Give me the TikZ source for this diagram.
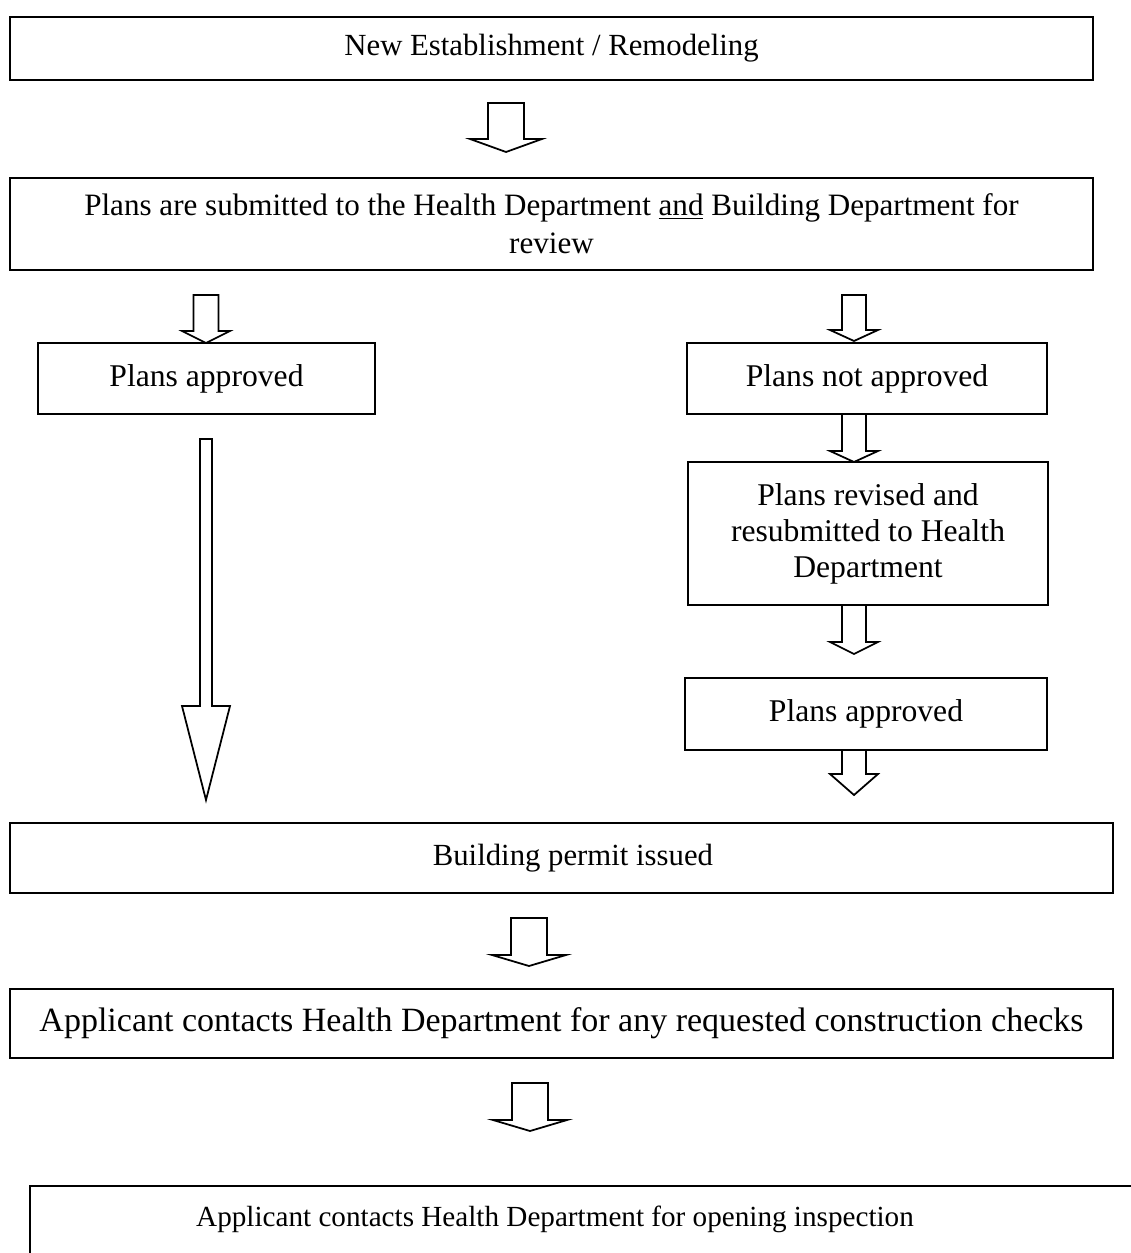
\documentclass[tikz,border=0pt]{standalone}
\usepackage{fontspec}
\setmainfont{Liberation Serif}
\tikzset{
  box/.style={draw,line width=1pt,inner sep=0pt,align=center,
    font=\fontsize{18}{20.5}\selectfont},
  barrow/.style={draw,line width=1pt,fill=white,line join=miter}
}
% down block arrow: x, top, neck, tip, half shaft, half head
\newcommand{\darrow}[6]{\draw[barrow] (#1-#5,#2) -- (#1+#5,#2) -- (#1+#5,#3) -- (#1+#6,#3) -- (#1,#4) -- (#1-#6,#3) -- (#1-#5,#3) -- cycle;}
\begin{document}
\begin{tikzpicture}[x=0.02cm,y=-0.02cm]
  \useasboundingbox (0,0) rectangle (1131,1253);
  \clip (0,0) rectangle (1131,1253);

  \node[box,minimum width=21.66cm,minimum height=1.26cm,font=\fontsize{17.5}{20}\selectfont] (start) at (551.5,48.5) {New Establishment / Remodeling};
  \node[box,minimum width=21.66cm,minimum height=1.84cm,font=\fontsize{17.7}{21.5}\selectfont] (submit) at (551.5,224) {Plans are submitted to the Health Department \underline{and} Building Department for\\review};
  \node[box,minimum width=6.74cm,minimum height=1.42cm] (ok) at (206.5,378.5) {Plans approved};
  \node[box,minimum width=7.2cm,minimum height=1.42cm] (notok) at (867,378.5) {Plans not approved};
  \node[box,minimum width=7.2cm,minimum height=2.86cm] (revise) at (868,533.5) {Plans revised and\\resubmitted to Health\\Department};
  \node[box,minimum width=7.24cm,minimum height=1.44cm] (okagain) at (866,714) {Plans approved};
  \node[box,minimum width=22.06cm,minimum height=1.4cm,font=\fontsize{17.5}{20}\selectfont] (permit) at (561.5,858) {\hspace*{13pt}Building permit issued};
  \node[box,minimum width=22.06cm,minimum height=1.38cm,font=\fontsize{19.35}{22}\selectfont] (checks) at (561.5,1023.5) {Applicant contacts Health Department for any requested construction checks};
  \draw[line width=1pt] (30,1186) rectangle (1180,1290);
  \node[box,draw=none,font=\fontsize{16.6}{19}\selectfont] (opening) at (555,1219) {Applicant contacts Health Department for opening inspection};

  \darrow{506}{103}{139}{152}{18}{36}
  \darrow{206}{295}{331}{343}{12.5}{24}
  \darrow{206}{439}{706}{800}{6}{24}
  \darrow{854}{295}{330}{341}{12}{24}
  \darrow{854}{414}{451}{462}{12}{24}
  \darrow{854}{605}{642}{654}{12}{24}
  \darrow{854}{750}{774}{795}{12}{24}
  \darrow{529}{918}{955}{966}{18}{37}
  \darrow{530}{1083}{1120}{1131}{18}{37}
\end{tikzpicture}
\end{document}
